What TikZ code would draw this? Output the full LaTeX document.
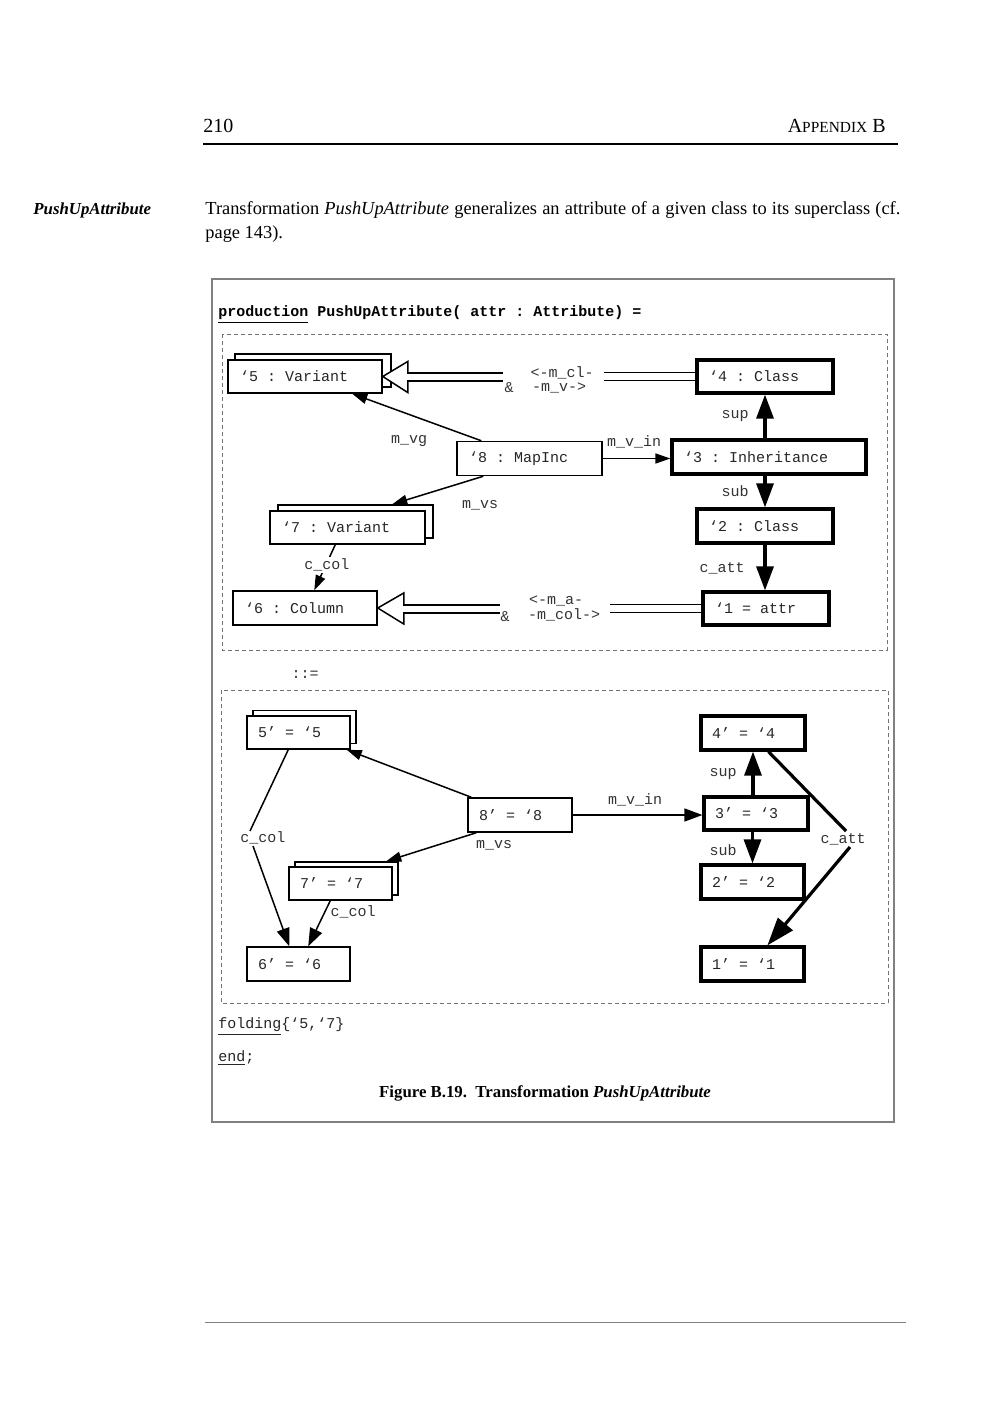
\documentclass[tikz,border=0pt]{standalone}
\usepackage{fontspec}
\setmainfont{Liberation Serif}
\setmonofont{Liberation Mono}
\usetikzlibrary{arrows.meta,calc}
\newcommand\monof{\fontsize{7.5}{9}\selectfont\ttfamily}
\newcommand\bodyf{\fontsize{9.2}{11}\selectfont}
\newcommand\boldf{\fontsize{8.4}{10}\selectfont\bfseries}
\newcommand\lt[2]{\makebox[#1][l]{#2}}
\tikzset{
  bx/.style={draw, line width=0.75pt, fill=white, inner xsep=6pt, inner ysep=0pt, font=\monof, text=black!85, minimum height=16.5pt},
  tbx/.style={bx, line width=1.6pt},
  bxb/.style={bx, inner xsep=5.5pt},
  tbxb/.style={tbx, inner xsep=5.5pt},
  lbl/.style={font=\monof, text=black!80, inner sep=1pt},
  ar/.style={line width=0.75pt, -{Triangle[length=7.5pt,width=5pt]}},
  arb/.style={line width=0.75pt, -{Triangle[length=9pt,width=6.5pt]}},
  tar/.style={line width=1.6pt, -{Triangle[length=12pt,width=8.5pt]}},
  tarb/.style={line width=1.6pt, -{Triangle[length=14pt,width=9.5pt]}},
  dbl/.style={line width=0.75pt, double, double distance=3.25pt},
  hollow/.style={line width=0.75pt, fill=white},
  dbox/.style={draw=black!55, line width=0.5pt, dash pattern=on 2pt off 1.5pt},
}
\begin{document}
\begin{tikzpicture}[x=0.5pt,y=-0.5pt]
\useasboundingbox[fill=white] (0,0) rectangle (1000,1413);

% page header
\node[anchor=base west, inner sep=0, font=\fontsize{10}{12}\selectfont] (pg) at (203,133) {210};
\node[anchor=base east, inner sep=0, font=\fontsize{10}{12}\selectfont] (app) at (886,133) {A{\fontsize{7.7}{9}\selectfont PPENDIX} B};
\draw[line width=0.7pt] (203,144) -- (898,144);

% margin note and body text
\node[anchor=base west, inner sep=0, font=\boldf\itshape] (mn) at (33,214) {PushUpAttribute};
\node[anchor=base west, inner sep=0, font=\bodyf] (b1) at (205,214) {\makebox[347.5pt][s]{Transformation \textit{PushUpAttribute} generalizes an attribute of a given class to its superclass (cf.}};
\node[anchor=base west, inner sep=0, font=\bodyf] (b2) at (205,238) {page 143).};

% figure frame
\draw[draw=black!50, line width=1pt] (212,279) rectangle (894,1122);
\node[anchor=base west, inner sep=0, font=\monof\bfseries] (prod) at (218,316) {\underline{production} PushUpAttribute( attr : Attribute) =};

\draw[dbox] (222,334) rectangle (887,650);
\draw[dbox] (221,690) rectangle (888,1003);
\node[lbl] (def) at (305,675) {::=};

% ---------- upper graph ----------
\node[bx] (v5b) at (313,370.5) {\lt{66pt}{}};
\node[bx] (v5) at (305,376.5) {\lt{65pt}{‘5 : Variant}};
\node[tbx] (c4) at (765,376.5) {\lt{56pt}{‘4 : Class}};
\node[bx, minimum height=17pt] (m8) at (529.5,458.5) {\lt{60.5pt}{‘8 : MapInc}};
\node[tbx, minimum height=17pt] (i3) at (769,457) {\lt{85pt}{‘3 : Inheritance}};
\node[tbx, minimum height=17pt] (c2) at (765,526) {\lt{56pt}{‘2 : Class}};
\node[tbx] (a1) at (766,608.5) {\lt{51pt}{‘1 = attr}};
\node[bx] (v7b) at (355.5,521.5) {\lt{65.5pt}{}};
\node[bx] (v7) at (347.5,527.5) {\lt{65.5pt}{‘7 : Variant}};
\node[bx, minimum height=17pt] (col6) at (305,608) {\lt{60pt}{‘6 : Column}};

% double connector 4 -> 5
\coordinate (dA) at (604,376.5);
\coordinate (dB) at (503,377);
\coordinate (dC) at (407,377);
\draw[dbl] (c4.west) -- (dA);
\draw[hollow] (v5.east) -- ($(v5.east)+(25,-15)$) -- ($(v5.east)+(25,16)$) -- cycle;
\draw[dbl] (dB) -- (dC);
\node[lbl] (l1a) at (562,373) {<-m\_cl-};
\node[lbl] (l1b) at (559,388) {-m\_v->};
\node[lbl] (l1c) at (509,388) {\&};

% double connector 1 -> 6
\coordinate (eA) at (610,608.5);
\coordinate (eB) at (500,609);
\coordinate (eC) at (403,609);
\draw[dbl] (a1.west) -- (eA);
\draw[hollow] (col6.east) -- ($(col6.east)+(26,-15)$) -- ($(col6.east)+(26,16)$) -- cycle;
\draw[dbl] (eB) -- (eC);
\node[lbl] (l2a) at (556,601) {<-m\_a-};
\node[lbl] (l2b) at (564,615) {-m\_col->};
\node[lbl] (l2c) at (505,617) {\&};

\draw[ar] ($(m8.north west)+(25,0)$) -- ($(v5.south west)+(125,0)$);
\node[lbl] (mvg) at (409,441) {m\_vg};
\draw[ar] ($(m8.south west)+(27,0)$) -- ($(v7b.north west)+(115,0)$);
\node[lbl] (mvs) at (480,505) {m\_vs};
\draw[ar] (m8.east) -- (m8.east -| i3.west);
\node[lbl] (mvin) at (634,442) {m\_v\_in};
\draw[tar] (c4.south |- i3.north) -- (c4.south);
\node[lbl] (sup1) at (735,416) {sup};
\draw[tar] (c2.north |- i3.south) -- (c2.north);
\node[lbl] (sub1) at (735,491) {sub};
\draw[tar] (c2.south) -- (a1.north -| c2.south);
\node[lbl] (catt1) at (722,568) {c\_att};
\draw[ar] ($(v7.south west)+(66,0)$) -- ($(col6.north west)+(82,0)$);
\node[lbl, fill=white] (ccol1) at (327,565) {c\_col};

% ---------- lower graph ----------
\node[bxb] (p5b) at (304.5,727) {\lt{40.5pt}{}};
\node[bxb] (p5) at (298.5,732.5) {\lt{40.5pt}{5’ = ‘5}};
\node[bxb, minimum height=17pt] (p8) at (520,815) {\lt{41pt}{8’ = ‘8}};
\node[bxb] (p7b) at (346.5,878.5) {\lt{40.5pt}{}};
\node[bxb] (p7) at (340.5,883.5) {\lt{40.5pt}{7’ = ‘7}};
\node[bxb, minimum height=17pt] (p6) at (298.5,964) {\lt{40.5pt}{6’ = ‘6}};
\node[tbxb, minimum height=17pt] (p4) at (753,733) {\lt{41pt}{4’ = ‘4}};
\node[tbxb] (p3) at (756,813.5) {\lt{41pt}{3’ = ‘3}};
\node[tbxb, minimum height=17pt] (p2) at (752.5,882) {\lt{40.5pt}{2’ = ‘2}};
\node[tbxb, minimum height=17pt] (p1) at (752.5,964) {\lt{40.5pt}{1’ = ‘1}};

\draw[ar] ($(p8.north west)+(4,0)$) -- ($(p5.south east)+(-4,0)$);
\draw[ar] ($(p8.south west)+(9,0)$) -- ($(p7b.north west)+(92,0)$);
\node[lbl] (mvs2) at (494,845) {m\_vs};
\draw[arb] (p8.east) -- (p8.east -| p3.west);
\node[lbl] (mvin2) at (635,800) {m\_v\_in};
\draw[tar] (p4.south |- p3.north) -- (p4.south);
\node[lbl] (sup2) at (723,774) {sup};
\draw[tar] (p2.north |- p3.south) -- (p2.north);
\node[lbl] (sub2) at (723,850) {sub};

\node[lbl] (catt2) at (843,839) {c\_att};
\draw[line width=1.6pt] ($(p4.south west)+(69,0)$) -- ($(catt2.center)+(3,-8)$);
\draw[tarb] ($(catt2.center)+(7,8)$) -- ($(p1.north west)+(68,0)$);

\node[lbl] (ccol2) at (263,838) {c\_col};
\draw[line width=0.75pt] ($(p5.south west)+(42,0)$) -- ($(ccol2.center)+(-13,-7)$);
\draw[arb] ($(ccol2.center)+(-10,8)$) -- ($(p6.north west)+(43,0)$);

\draw[arb] ($(p7.south west)+(42,0)$) -- ($(p6.north west)+(62,0)$);
\node[lbl] (ccol3) at (353,912) {c\_col};

% footer of figure
\node[anchor=base west, inner sep=0, font=\monof, text=black!85] (fold) at (218,1028) {\underline{folding}\{‘5,‘7\}};
\node[anchor=base west, inner sep=0, font=\monof, text=black!85] (endk) at (218,1061) {\underline{end};};
\node[anchor=base, inner sep=0, font=\boldf] (cap) at (545,1097) {Figure B.19.\ \ Transformation \textit{PushUpAttribute}};

\draw[draw=black!50, line width=0.5pt] (205,1322) -- (906,1322);
\end{tikzpicture}
\end{document}
